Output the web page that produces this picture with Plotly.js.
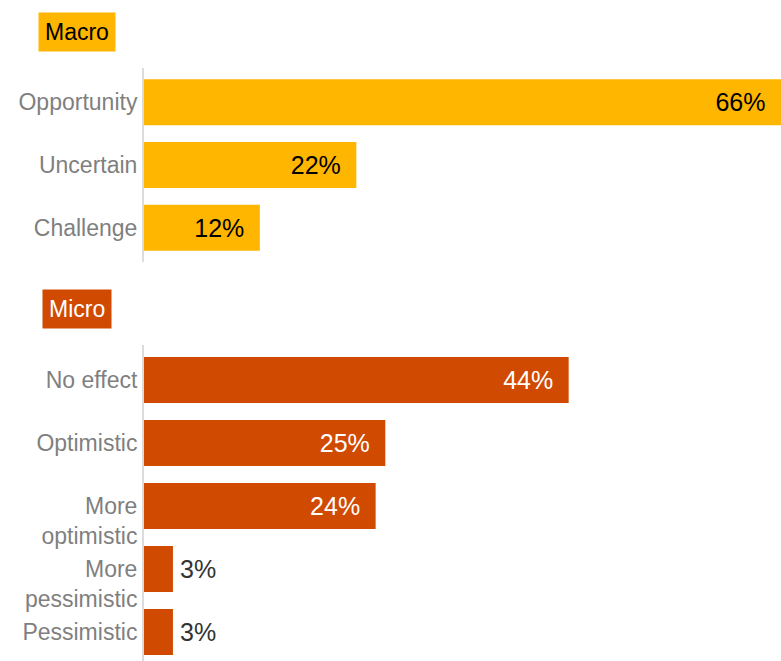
<!DOCTYPE html>
<html><head><meta charset="utf-8">
<script src="https://cdn.plot.ly/plotly-3.0.1.min.js"></script>
<style>html,body{margin:0;padding:0;background:#fff;}#chart{width:781px;height:661px;}</style>
</head><body><div id="chart"></div>
<script>
const macroCategories = ["Opportunity", "Uncertain", "Challenge"];
const macroValues = [66, 22, 12];
const microCategories = ["No effect", "Optimistic", "More optimistic", "More pessimistic", "Pessimistic"];
const microTickLabels = ["No effect", "Optimistic", "<br>More<br>optimistic", "<br>More<br>pessimistic", "Pessimistic"];
const microValues = [44, 25, 24, 3, 3];
const groupTitles = ["Macro", "Micro"];
const macroColor = "#FFB600";
const microColor = "#D04A02";

const fontFam = "Liberation Sans, Arial, Helvetica, sans-serif";
const threshold = 8;

function labels(vals, insideColor) {
  return {
    text: vals.map(v => v >= threshold ? v + "%\u2002" : "\u2006" + v + "%"),
    pos: vals.map(v => v >= threshold ? "inside" : "outside"),
    colors: vals.map(v => v >= threshold ? insideColor : "#333333")
  };
}
const mL = labels(macroValues, "#000000");
const uL = labels(microValues, "#ffffff");

const traces = [
  {type: "bar", orientation: "h", x: macroValues, y: macroCategories, xaxis: "x", yaxis: "y",
   marker: {color: macroColor}, width: 0.73,
   text: mL.text, textposition: mL.pos, insidetextanchor: "end", constraintext: "none",
   textfont: {family: fontFam, size: 25, color: mL.colors}, cliponaxis: false, hoverinfo: "none"},
  {type: "bar", orientation: "h", x: microValues, y: microCategories, xaxis: "x2", yaxis: "y2",
   marker: {color: microColor}, width: 0.73,
   text: uL.text, textposition: uL.pos, insidetextanchor: "end", constraintext: "none",
   textfont: {family: fontFam, size: 25, color: uL.colors}, cliponaxis: false, hoverinfo: "none"}
];

const xa = {range: [0, 66], showgrid: false, zeroline: false, showticklabels: false, showline: false, fixedrange: true};
const ya = {type: "category", showgrid: false, zeroline: false, showline: true, linecolor: "#dcdcdc", linewidth: 2,
  ticks: "", ticklen: 0, ticklabelstandoff: 0, tickfont: {family: fontFam, size: 23, color: "#7f7f7f"}};

const layout = {
  width: 781, height: 661,
  margin: {l: 144, r: 0, t: 0, b: 0},
  paper_bgcolor: "#fff", plot_bgcolor: "#fff",
  showlegend: false,
  font: {family: fontFam},
  xaxis: Object.assign({}, xa, {anchor: "y", domain: [0, 1]}),
  xaxis2: Object.assign({}, xa, {anchor: "y2", domain: [0, 1]}),
  yaxis: Object.assign({}, ya, {anchor: "x", domain: [1 - 262/661, 1 - 68/661], range: [2.545, -0.545]}),
  yaxis2: Object.assign({}, ya, {anchor: "x2", domain: [0, 1 - 345/661], range: [4.46, -0.556],
    tickmode: "array", tickvals: microCategories, ticktext: microTickLabels}),
  annotations: [
    {text: groupTitles[0], xref: "paper", yref: "paper", x: (76.5 - 144)/637, y: 1 - 31.5/661,
     xanchor: "center", yanchor: "middle", showarrow: false, bgcolor: macroColor, borderpad: 6,
     font: {family: fontFam, size: 23, color: "#000"}},
    {text: groupTitles[1], xref: "paper", yref: "paper", x: (76.5 - 144)/637, y: 1 - 308.5/661,
     xanchor: "center", yanchor: "middle", showarrow: false, bgcolor: microColor, borderpad: 6,
     font: {family: fontFam, size: 23, color: "#fff"}}
  ]
};

Plotly.newPlot("chart", traces, layout, {displayModeBar: false, staticPlot: true});
</script></body></html>
